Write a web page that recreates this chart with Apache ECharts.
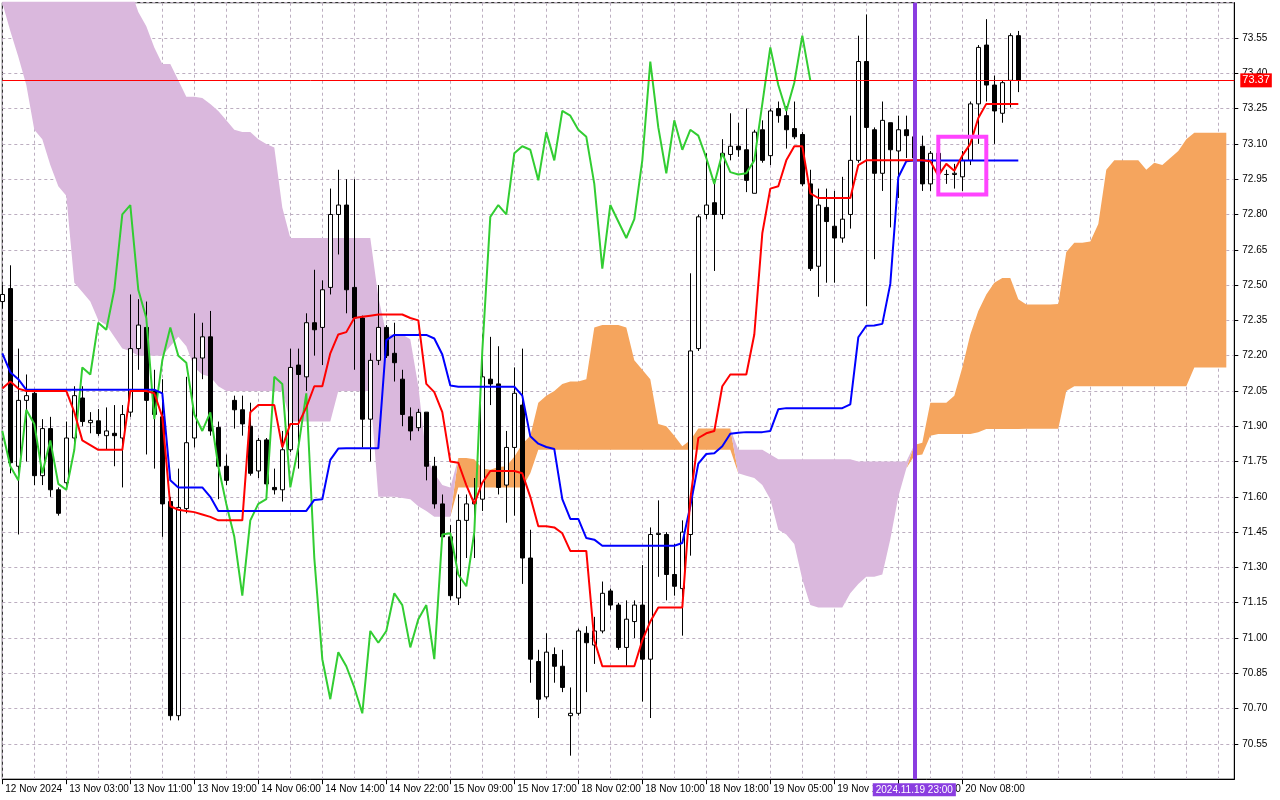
<!DOCTYPE html>
<html>
<head>
<meta charset="utf-8">
<script src="https://cdn.jsdelivr.net/npm/echarts@6/dist/echarts.min.js"></script>
<style>
html, body { margin: 0; padding: 0; background: #fff; }
#chart { width: 1280px; height: 800px; }
</style>
</head>
<body>
<div id="chart"></div>
<script>
// H1 bars (k = 0 .. 127)
const opens = [72.43,72.485,71.73,72.01,72.04,71.69,71.89,71.63,71.66,71.85,
72.02,71.915,71.923,71.86,71.87,71.85,71.96,72.23,72.32,72.05,
71.94,71.58,70.67,71.55,71.85,72.19,72.28,71.895,71.73,72.01,
71.97,71.90,71.71,71.842,71.64,71.63,71.80,72.16,72.11,72.34,
72.32,72.49,72.80,72.84,72.49,72.36,71.93,72.18,72.32,72.21,
72.10,71.94,71.894,71.96,71.73,71.57,71.43,71.17,71.50,71.57,
71.59,72.10,72.08,71.65,71.81,71.99,71.34,70.90,70.75,70.93,
70.88,70.67,70.68,71.02,70.97,71.03,71.20,71.14,70.96,71.07,
71.14,70.91,71.44,71.44,71.27,71.21,71.44,72.23,72.80,72.85,
72.80,73.055,73.09,73.075,72.89,73.16,73.05,73.25,73.22,73.165,
73.14,72.93,72.58,72.83,72.75,72.70,72.80,73.03,73.45,73.16,
72.975,73.19,73.07,73.16,73.13,73.09,72.93,73.06,72.97,72.97,
72.96,73.03,73.27,73.52,73.35,73.23,73.37,73.56];
const closes = [72.46,71.745,72.01,72.03,71.69,71.89,71.63,71.53,71.85,72.03,
71.92,71.925,71.869,71.88,71.86,71.95,72.23,72.33,72.01,71.95,
71.57,70.67,71.555,71.83,72.19,72.28,71.88,71.73,71.67,71.97,
71.91,71.70,71.84,71.655,71.63,71.80,72.15,72.12,72.34,72.31,
72.48,72.80,72.84,72.48,72.36,71.93,72.18,72.32,72.20,72.17,
71.95,71.88,71.959,71.73,71.57,71.43,71.18,71.50,71.57,71.59,
72.11,72.08,71.64,71.81,72.04,71.34,70.91,70.74,70.94,70.88,
70.79,70.68,71.03,70.98,71.03,71.19,71.14,70.96,71.08,71.14,
70.91,71.44,71.445,71.27,71.22,71.45,72.22,72.79,72.84,72.80,
73.06,73.09,73.075,72.945,73.15,73.03,73.24,73.22,73.16,73.13,
72.93,72.57,72.84,72.77,72.70,72.78,73.03,73.45,73.17,72.975,
73.20,73.075,73.16,73.135,73.04,72.93,73.06,72.98,72.97,72.975,
73.03,73.27,73.51,73.35,73.24,73.36,73.56,73.37];
const lows = [72.40,71.70,71.44,71.75,71.65,71.65,71.60,71.52,71.64,71.83,
71.90,71.87,71.859,71.80,71.73,71.64,71.94,72.14,71.78,71.72,
71.43,70.65,70.65,71.53,71.81,72.10,71.86,71.59,71.65,71.89,
71.86,71.69,71.68,71.637,71.61,71.58,71.79,71.72,72.05,72.20,
72.16,72.46,72.63,72.38,72.14,71.81,71.75,72.16,72.19,72.09,
71.90,71.84,71.879,71.67,71.55,71.42,71.16,71.14,71.34,71.34,
71.54,71.99,71.61,71.49,71.52,71.23,70.81,70.66,70.74,70.81,
70.77,70.50,70.67,70.77,70.89,71.02,71.12,70.95,70.88,71.00,
70.73,70.66,71.26,71.16,71.18,71.01,71.35,72.22,72.78,72.56,
72.78,73.03,73.045,72.895,72.89,73.02,73.01,73.19,73.08,73.12,
72.92,72.56,72.45,72.51,72.51,72.68,72.74,73.02,72.41,72.61,
72.90,72.745,72.87,73.04,73.02,72.90,72.90,72.95,72.93,72.91,
72.90,73.01,73.10,73.28,73.10,73.19,73.255,73.32];
const highs = [72.50,72.584,72.23,72.12,72.05,71.93,71.94,71.64,71.92,72.07,
72.07,71.96,71.973,71.98,71.99,71.99,72.46,72.44,72.43,72.14,
72.10,71.60,71.72,72.11,72.38,72.34,72.39,71.92,71.78,72.03,
72.03,72.00,71.85,71.85,71.72,71.88,72.23,72.23,72.38,72.565,
72.52,72.91,72.99,72.95,72.95,72.37,72.21,72.50,72.33,72.34,
72.14,71.98,71.974,71.96,71.77,71.61,71.48,71.61,71.61,71.68,
72.29,72.28,72.24,71.88,72.15,72.23,71.46,70.95,71.02,70.96,
70.95,70.79,71.04,71.05,71.09,71.24,71.21,71.15,71.16,71.16,
71.31,71.47,71.585,71.45,71.40,71.50,72.55,72.80,73.06,72.95,
73.12,73.23,73.19,73.25,73.16,73.20,73.25,73.28,73.26,73.28,
73.15,72.99,72.91,72.91,72.90,72.96,73.22,73.56,73.65,73.17,
73.28,73.19,73.22,73.22,73.16,73.135,73.07,73.07,72.99,73.015,
73.07,73.28,73.52,73.63,73.39,73.37,73.57,73.58];

// Tenkan-sen (red) and Kijun-sen (blue)
const tenkan = [72.06,72.09,72.06,72.05,72.05,72.05,72.05,72.05,72.05,71.96,
71.84,71.82,71.80,71.80,71.80,71.80,72.05,72.05,72.05,72.04,
71.94,71.56,71.545,71.54,71.535,71.525,71.515,71.50,71.50,71.50,
71.50,71.96,71.99,71.99,71.99,71.81,71.91,71.91,71.98,72.07,
72.07,72.21,72.29,72.30,72.36,72.365,72.37,72.375,72.375,72.375,
72.375,72.36,72.35,72.08,72.045,71.96,71.75,71.745,71.65,71.57,
71.66,71.71,71.71,71.71,71.71,71.70,71.60,71.475,71.475,71.47,
71.445,71.37,71.37,71.37,70.99,70.88,70.88,70.88,70.88,70.88,
70.99,71.07,71.13,71.13,71.13,71.13,71.59,71.85,71.87,71.88,
72.07,72.12,72.12,72.12,72.29,72.72,72.91,72.92,73.03,73.09,
73.09,72.89,72.87,72.87,72.87,72.87,72.87,73.01,73.03,73.03,
73.03,73.03,73.03,73.03,73.03,73.03,73.026,72.965,73.015,72.986,
73.05,73.10,73.21,73.27,73.27,73.27,73.27,73.27];
const kijun = [72.21,72.13,72.10,72.055,72.055,72.055,72.055,72.055,72.055,72.055,
72.055,72.055,72.055,72.055,72.055,72.055,72.055,72.055,72.055,72.055,
72.04,71.67,71.64,71.64,71.64,71.64,71.60,71.54,71.54,71.54,
71.54,71.54,71.54,71.54,71.54,71.54,71.54,71.54,71.54,71.587,
71.59,71.757,71.805,71.806,71.806,71.806,71.806,71.806,72.266,72.288,
72.288,72.288,72.288,72.288,72.273,72.205,72.073,72.068,72.068,72.068,
72.068,72.068,72.068,72.068,72.068,72.03,71.857,71.826,71.812,71.803,
71.59,71.506,71.506,71.425,71.418,71.392,71.392,71.392,71.392,71.392,
71.392,71.392,71.392,71.392,71.392,71.404,71.56,71.741,71.782,71.785,
71.815,71.868,71.872,71.875,71.875,71.875,71.88,71.972,71.977,71.977,
71.977,71.977,71.977,71.977,71.977,71.977,71.993,72.278,72.327,72.328,
72.335,72.505,72.958,73.026,73.029,73.029,73.029,73.029,73.029,73.029,
73.029,73.029,73.029,73.029,73.029,73.029,73.029,73.029];

// Senkou spans, already shifted forward 26 bars (k = 0 .. 153)
const spanA = [73.70,73.58,73.47,73.35,73.16,73.12,73.01,72.92,72.88,72.51,
72.47,72.43,72.35,72.33,72.28,72.23,72.22,72.20,72.20,72.20,
72.20,72.24,72.28,72.24,72.15,72.12,72.11,72.07,72.05,72.05,
72.05,72.05,72.05,72.05,72.05,72.05,71.92,71.92,71.92,71.92,
71.92,71.92,72.05,72.05,72.05,72.05,72.05,71.60,71.60,71.60,
71.595,71.59,71.56,71.54,71.515,71.515,71.515,71.765,71.765,71.76,
71.72,71.715,71.727,71.73,71.77,71.825,71.86,72.00,72.03,72.05,
72.08,72.09,72.09,72.10,72.32,72.33,72.33,72.33,72.32,72.18,
72.14,72.10,71.91,71.90,71.86,71.815,71.84,71.89,71.89,71.89,
71.89,71.89,71.70,71.69,71.68,71.65,71.59,71.46,71.44,71.40,
71.25,71.14,71.13,71.13,71.13,71.13,71.19,71.23,71.26,71.26,
71.27,71.42,71.60,71.72,71.82,71.83,72.00,72.00,72.00,72.03,
72.15,72.29,72.39,72.46,72.51,72.53,72.53,72.44,72.417,72.417,
72.417,72.417,72.42,72.64,72.68,72.68,72.685,72.76,72.99,73.03,
73.03,73.03,73.03,72.99,73.02,73.01,73.04,73.07,73.12,73.147,
73.147,73.147,73.147,73.147];
const spanB = [73.80,73.80,73.80,73.80,73.80,73.80,73.80,73.80,73.80,73.80,
73.80,73.80,73.80,73.80,73.80,73.80,73.76,73.66,73.60,73.51,
73.44,73.44,73.37,73.30,73.30,73.295,73.27,73.24,73.20,73.16,
73.15,73.15,73.12,73.10,73.085,72.83,72.70,72.70,72.70,72.70,
72.70,72.70,72.70,72.70,72.70,72.70,72.70,72.45,72.29,72.29,
72.29,72.27,72.07,71.77,71.70,71.65,71.64,71.64,71.64,71.64,
71.64,71.64,71.64,71.64,71.64,71.64,71.70,71.80,71.80,71.80,
71.80,71.80,71.80,71.80,71.80,71.80,71.80,71.80,71.80,71.80,
71.80,71.80,71.80,71.80,71.80,71.80,71.80,71.80,71.80,71.80,
71.80,71.80,71.80,71.80,71.80,71.80,71.78,71.76,71.76,71.76,
71.76,71.76,71.76,71.76,71.76,71.76,71.76,71.75,71.75,71.75,
71.75,71.75,71.75,71.75,71.775,71.78,71.86,71.867,71.867,71.867,
71.867,71.867,71.875,71.888,71.888,71.888,71.888,71.888,71.889,71.889,
71.889,71.889,71.889,72.05,72.07,72.07,72.07,72.07,72.07,72.07,
72.07,72.07,72.07,72.07,72.07,72.07,72.07,72.07,72.07,72.15,
72.15,72.15,72.15,72.15];

// one label every 8 bars
const tickLabels = ['12 Nov 2024','13 Nov 03:00','13 Nov 11:00','13 Nov 19:00','14 Nov 06:00',
'14 Nov 14:00','14 Nov 22:00','15 Nov 09:00','15 Nov 17:00','18 Nov 02:00','18 Nov 10:00',
'18 Nov 18:00','19 Nov 05:00','19 Nov 13:00','19 Nov 21:00','20 Nov 08:00'];

const lastPrice = 73.37;
const cursorBar = 114;
const cursorLabel = '2024.11.19 23:00';
const slotCount = 155;

const FONT = 'Liberation Sans';

const categories = [];
for (let i = 0; i < slotCount; i++) categories.push(String(i));

const candles = opens.map((o, i) => [o, closes[i], lows[i], highs[i]]);
const chikou = closes.slice(26);

const cloudBase = spanA.map((a, i) => Math.min(a, spanB[i]));
const cloudUp = spanA.map((a, i) => Math.max(a - spanB[i], 0));
const cloudDown = spanA.map((a, i) => Math.max(spanB[i] - a, 0));

const isLabelBar = (idx) => idx % 8 === 0 && idx / 8 < tickLabels.length;

const chart = echarts.init(document.getElementById('chart'));

chart.setOption({
	animation: false,
	backgroundColor: '#ffffff',
	grid: {
		left: 2.3, top: 2.7, width: 1232, height: 776.5,
		show: true, borderColor: '#000', borderWidth: 1, backgroundColor: '#fff'
	},
	xAxis: {
		type: 'category',
		data: categories,
		boundaryGap: false,
		axisLine: { lineStyle: { color: '#000', width: 1 } },
		axisTick: { show: true, length: 5, interval: (idx) => isLabelBar(idx), lineStyle: { color: '#000' } },
		axisLabel: {
			interval: (idx) => isLabelBar(idx),
			formatter: (v, idx) => isLabelBar(idx) ? tickLabels[idx / 8] : '',
			align: 'left', padding: [0, 0, 0, 3], margin: 5,
			color: '#000', fontFamily: FONT, fontSize: 10
		},
		splitLine: { show: true, interval: 3, lineStyle: { color: '#bcaec0', type: [3, 3], width: 1 } }
	},
	yAxis: {
		type: 'value',
		position: 'right',
		min: 70.40, max: 73.70, interval: 0.15,
		axisLine: { show: true, lineStyle: { color: '#000' } },
		axisTick: { show: true, length: 4, lineStyle: { color: '#000' } },
		axisLabel: {
			showMinLabel: false, showMaxLabel: false,
			formatter: (v) => v.toFixed(2),
			margin: 8, color: '#000', fontFamily: FONT, fontSize: 10
		},
		splitLine: { show: true, lineStyle: { color: '#bcaec0', type: [3, 3], width: 1 } }
	},
	series: [
		{
			name: 'cloudBase', type: 'line', data: cloudBase, stack: 'cloud', stackStrategy: 'all',
			showSymbol: false, lineStyle: { opacity: 0 }, z: 1, silent: true
		},
		{
			name: 'kumoUp', type: 'line', data: cloudUp, stack: 'cloud', stackStrategy: 'all',
			showSymbol: false, lineStyle: { opacity: 0 }, areaStyle: { color: '#f5a55e', opacity: 1 }, z: 1, silent: true
		},
		{
			name: 'kumoDown', type: 'line', data: cloudDown, stack: 'cloud', stackStrategy: 'all',
			showSymbol: false, lineStyle: { opacity: 0 }, areaStyle: { color: '#dab8dd', opacity: 1 }, z: 1, silent: true
		},
		{
			name: 'price', type: 'candlestick', data: candles, barWidth: 5, z: 2,
			itemStyle: { color: '#ffffff', color0: '#000000', borderColor: '#000000', borderColor0: '#000000', borderWidth: 1 },
			markLine: {
				silent: true, symbol: ['none', 'none'], z: 6,
				data: [
					{
						yAxis: lastPrice,
						lineStyle: { color: '#ff0000', width: 1, type: 'solid' },
						label: {
							show: true, position: 'end', formatter: lastPrice.toFixed(2), distance: 6,
							color: '#fff', backgroundColor: '#ff0000', padding: [2, 2, 1, 2],
							fontFamily: FONT, fontSize: 11
						}
					},
					{
						xAxis: cursorBar,
						lineStyle: { color: '#8a3de0', width: 4, type: 'solid' },
						label: {
							show: true, position: 'start', formatter: cursorLabel, distance: 4,
							color: '#fff', backgroundColor: '#8a3de0', padding: [2, 3, 1, 3],
							fontFamily: FONT, fontSize: 10
						}
					}
				]
			},
			markArea: {
				silent: true, z: 6,
				itemStyle: { color: 'rgba(0,0,0,0)', borderColor: '#ff44ff', borderWidth: 4 },
				data: [[{ xAxis: 117, yAxis: 73.13 }, { xAxis: 123, yAxis: 72.885 }]]
			}
		},
		{
			name: 'chikou', type: 'line', data: chikou, showSymbol: false, z: 3,
			lineStyle: { color: '#32cd32', width: 2 }
		},
		{
			name: 'kijun', type: 'line', data: kijun, showSymbol: false, z: 3,
			lineStyle: { color: '#0000ff', width: 2 }
		},
		{
			name: 'tenkan', type: 'line', data: tenkan, showSymbol: false, z: 4,
			lineStyle: { color: '#ff0000', width: 2 }
		}
	]
});
</script>
</body>
</html>
